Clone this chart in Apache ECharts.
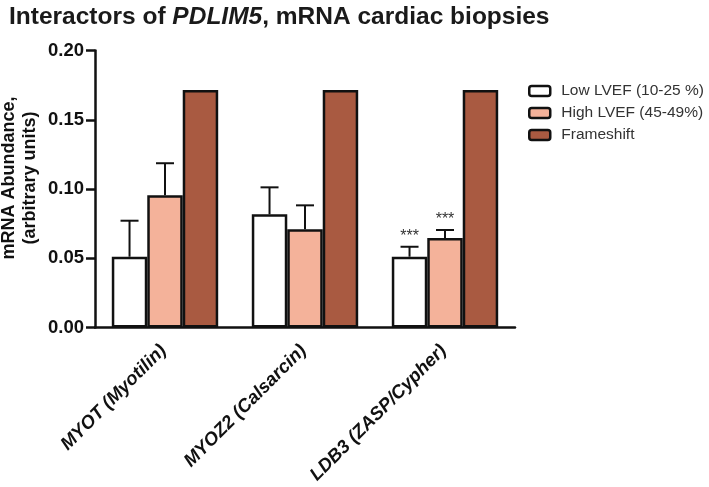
<!DOCTYPE html>
<html><head><meta charset="utf-8">
<script src="https://cdn.jsdelivr.net/npm/echarts@6/dist/echarts.min.js"></script>
<style>html,body{margin:0;padding:0;background:#fff}#c{width:709px;height:487px}</style>
</head><body><div id="c"></div>
<script>
const categories = ['MYOT (Myotilin)', 'MYOZ2 (Calsarcin)', 'LDB3 (ZASP/Cypher)'];
const seriesNames = ['Low LVEF (10-25 %)', 'High LVEF (45-49%)', 'Frameshift'];
const lowValues = [0.0511, 0.0817, 0.0511];
const lowErrors = [0.0260, 0.0195, 0.0072];
const highValues = [0.0955, 0.0709, 0.0646];
const highErrors = [0.0231, 0.0173, 0.0058];
const frameValues = [0.1715, 0.1715, 0.1715];
const lowStars = ['', '', '***'];
const highStars = ['', '', '***'];
const yTicks = [0, 0.05, 0.10, 0.15, 0.20];

const colors = ['#ffffff', '#f4b29a', '#a95a41'];
const FONT = 'Liberation Sans, Arial, sans-serif';
const CAT_GAP = 0.24;

function errSeries(values, errors, stars, idx) {
  return {
    type: 'custom',
    name: seriesNames[idx] + ' err',
    z: 5,
    silent: true,
    data: values.map((v, i) => [i, v, v + errors[i], stars[i]]),
    renderItem: function (params, api) {
      const i = api.value(0);
      const band = api.size([1, 0])[0];
      const barW = band * (1 - CAT_GAP) / 3;
      const c = api.coord([i, api.value(1)]);
      const t = api.coord([i, api.value(2)]);
      const x = c[0] + (idx - 1) * barW;
      const cap = 9;
      const children = [
        { type: 'line', shape: { x1: x, y1: c[1], x2: x, y2: t[1] }, style: { stroke: '#111', lineWidth: 2 } },
        { type: 'line', shape: { x1: x - cap, y1: t[1], x2: x + cap, y2: t[1] }, style: { stroke: '#111', lineWidth: 2 } }
      ];
      const s = api.value(3);
      if (s) {
        children.push({ type: 'text', style: { text: s, x: x, y: t[1] - 2, align: 'center', verticalAlign: 'bottom', fill: '#333', font: '16px ' + FONT } });
      }
      return { type: 'group', children: children };
    }
  };
}

const chart = echarts.init(document.getElementById('c'), null, { renderer: 'canvas' });
chart.setOption({
  animation: false,
  backgroundColor: '#fff',
  title: {
    text: '{b|Interactors of }{i|PDLIM5}{b|, mRNA cardiac biopsies}',
    left: 4, top: 0,
    textStyle: {
      rich: {
        b: { fontFamily: FONT, fontWeight: 'bold', fontSize: 24.5, color: '#1a1a1a' },
        i: { fontFamily: FONT, fontWeight: 'bold', fontStyle: 'italic', fontSize: 24.5, color: '#1a1a1a' }
      }
    }
  },
  legend: {
    data: seriesNames,
    orient: 'vertical',
    left: 523, top: 77,
    itemWidth: 21, itemHeight: 10, itemGap: 4,
    textStyle: { fontFamily: FONT, fontSize: 15.5, color: '#333', padding: [0, 0, 0, 6], lineHeight: 18 },
    itemStyle: { borderColor: '#111', borderWidth: 2.5 }
  },
  grid: { left: 95, right: 194, top: 50.5, bottom: 159.5, containLabel: false, outerBoundsMode: 'none' },
  xAxis: {
    type: 'category',
    data: categories,
    axisLine: { lineStyle: { color: '#111', width: 2.5 } },
    axisTick: { alignWithLabel: true, length: 7, lineStyle: { color: '#111', width: 2.5 }, inside: false },
    axisLabel: { rotate: 45, margin: 19, padding: [0, 2, 0, 0], fontFamily: FONT, fontWeight: 'bold', fontStyle: 'italic', fontSize: 18.5, color: '#111' }
  },
  yAxis: {
    type: 'value',
    min: yTicks[0], max: yTicks[yTicks.length - 1], interval: 0.05,
    name: 'mRNA Abundance,\n(arbitrary units)',
    nameLocation: 'middle', nameGap: 54, nameRotate: 90, nameMoveOverlap: false,
    nameTextStyle: { fontFamily: FONT, fontWeight: 'bold', fontSize: 18, color: '#111', lineHeight: 21, padding: [0, 0, 0, 22] },
    axisLine: { show: true, lineStyle: { color: '#111', width: 2.5 } },
    axisTick: { show: true, length: 9, lineStyle: { color: '#111', width: 2.5 } },
    splitLine: { show: false },
    axisLabel: { margin: 11, fontFamily: FONT, fontWeight: 'bold', fontSize: 18.5, color: '#111', formatter: v => v.toFixed(2) }
  },
  series: [
    { type: 'bar', name: seriesNames[0], data: lowValues, barGap: 0, barCategoryGap: (CAT_GAP * 100) + '%', itemStyle: { color: colors[0], borderColor: '#111', borderWidth: 2.5 } },
    { type: 'bar', name: seriesNames[1], data: highValues, barGap: 0, barCategoryGap: (CAT_GAP * 100) + '%', itemStyle: { color: colors[1], borderColor: '#111', borderWidth: 2.5 } },
    { type: 'bar', name: seriesNames[2], data: frameValues, barGap: 0, barCategoryGap: (CAT_GAP * 100) + '%', itemStyle: { color: colors[2], borderColor: '#111', borderWidth: 2.5 } },
    errSeries(lowValues, lowErrors, lowStars, 0),
    errSeries(highValues, highErrors, highStars, 1)
  ]
});
</script></body></html>
